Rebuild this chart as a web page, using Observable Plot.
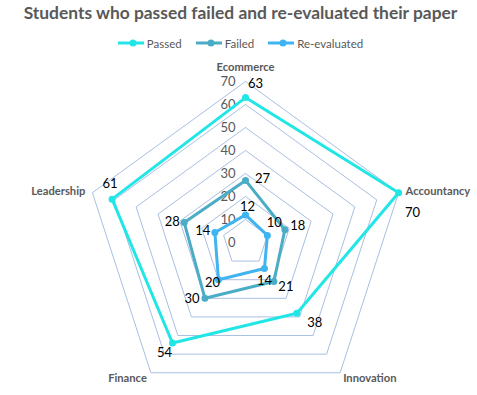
<!DOCTYPE html>
<html>
<head>
<meta charset="utf-8">
<script src="https://cdn.jsdelivr.net/npm/d3@7"></script>
<script src="https://cdn.jsdelivr.net/npm/@observablehq/plot@0.6"></script>
<style>
  html, body { margin: 0; padding: 0; background: #fff; }
  #wrap { width: 477px; height: 395px; overflow: hidden; font-family: Lato, "Open Sans", sans-serif; }
  #title { height: 26px; line-height: 26px; text-align: center; font-weight: bold; font-size: 17.4px; color: #595959; white-space: nowrap; padding-left: 4px; }
  #legend { height: 34px; display: flex; justify-content: center; align-items: center; font-size: 11.5px; color: #595959; padding-left: 4px; }
  .item { display: inline-flex; align-items: center; margin: 0 7px; }
  .item span { margin-left: 3px; }
  #chart svg { display: block; }
</style>
</head>
<body>
<div id="wrap">
  <div id="title">Students who passed failed and re-evaluated their paper</div>
  <div id="legend"></div>
  <div id="chart"></div>
</div>
<script>
const categories = ["Ecommerce", "Accountancy", "Innovation", "Finance", "Leadership"];
const seriesNames = ["Passed", "Failed", "Re-evaluated"];
const passed = [63, 70, 38, 54, 61];
const failed = [27, 18, 21, 30, 28];
const reEvaluated = [12, 10, 14, 20, 14];
const ringTicks = [0, 10, 20, 30, 40, 50, 60, 70];

const colors = {"Passed": "#22E6E6", "Failed": "#4BACC6", "Re-evaluated": "#3FB4F0"};
// label placement (pixels) per series, per category
const labelOffsets = {
  "Passed": [[10, -14], [14, 20], [18, 10], [-8, 10], [-2, -15]],
  "Failed": [[17, -2], [13, -4], [12, 5], [-13, 1], [-12, -1]],
  "Re-evaluated": [[2, -8], [7, -13], [0, 12], [-6, 3], [-12, -2]]
};
const catLabelPos = [
  {dx: 0, dy: -14, anchor: "middle"},
  {dx: 7, dy: -1, anchor: "start"},
  {dx: 3, dy: 6, anchor: "start"},
  {dx: -4, dy: 6, anchor: "end"},
  {dx: -7, dy: -1, anchor: "end"}
];

const W = 477, H = 335, cx = 245, cy = 182, k = 161 / 70;
const angle = i => i * 2 * Math.PI / categories.length;
const px = (v, i) => v * Math.sin(angle(i));
const py = (v, i) => v * Math.cos(angle(i));

const seriesValues = {"Passed": passed, "Failed": failed, "Re-evaluated": reEvaluated};
const points = [];
for (const s of seriesNames) {
  seriesValues[s].forEach((v, i) => points.push({series: s, cat: categories[i], i, v, x: px(v, i), y: py(v, i), dx: labelOffsets[s][i][0], dy: labelOffsets[s][i][1]}));
}
const ringPts = [];
for (const r of ringTicks.filter(t => t > 0)) {
  for (let i = 0; i <= categories.length; i++) {
    const j = i % categories.length;
    ringPts.push({r, x: px(r, j), y: py(r, j)});
  }
}
const catLabels = categories.map((c, i) => ({c, x: px(70, i), y: py(70, i), ...catLabelPos[i]}));

const marks = [
  Plot.line(ringPts, {x: "x", y: "y", z: "r", stroke: "#A9BFE3", strokeWidth: 1}),
  Plot.text(ringTicks, {x: 0, y: d => d, text: d => String(d), textAnchor: "end", dx: -10, fill: "#595959", fontSize: 13}),
];
for (const s of seriesNames) {
  const pts = points.filter(p => p.series === s);
  marks.push(Plot.line([...pts, pts[0]], {x: "x", y: "y", stroke: colors[s], strokeWidth: 3, strokeLinejoin: "round"}));
  marks.push(Plot.dot(pts, {x: "x", y: "y", r: 3.5, fill: colors[s], stroke: "none"}));
}
for (const p of points) {
  marks.push(Plot.text([p], {x: "x", y: "y", text: d => String(d.v), dx: p.dx, dy: p.dy, fill: "#000", fontSize: 13}));
}
for (const c of catLabels) {
  marks.push(Plot.text([c], {x: "x", y: "y", text: "c", dx: c.dx, dy: c.dy, textAnchor: c.anchor, fill: "#595959", fontSize: 11.2, fontWeight: "bold"}));
}

const chart = Plot.plot({
  width: W, height: H,
  margin: 0,
  style: {fontFamily: "Lato, 'Open Sans', sans-serif", background: "#fff"},
  x: {domain: [-cx / k, (W - cx) / k], axis: null},
  y: {domain: [-(H - cy) / k, cy / k], axis: null},
  marks
});
document.getElementById("chart").appendChild(chart);

const legend = document.getElementById("legend");
for (const s of seriesNames) {
  const item = document.createElement("div");
  item.className = "item";
  item.innerHTML = `<svg width="26" height="10"><line x1="0" y1="5" x2="26" y2="5" stroke="${colors[s]}" stroke-width="3"/><circle cx="15" cy="5" r="3.5" fill="${colors[s]}"/></svg><span>${s}</span>`;
  legend.appendChild(item);
}
</script>
</body>
</html>
